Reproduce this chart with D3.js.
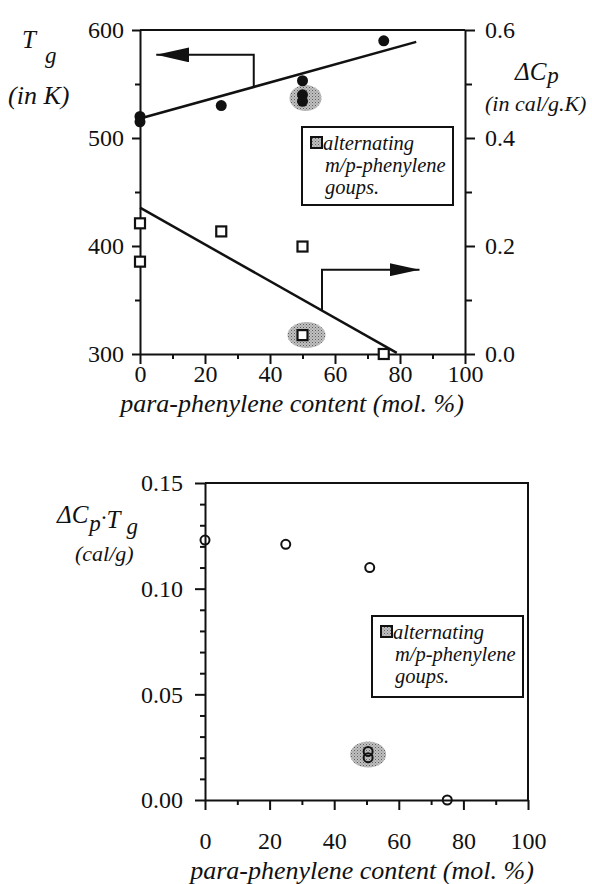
<!DOCTYPE html>
<html>
<head>
<meta charset="utf-8">
<script src="https://cdn.jsdelivr.net/npm/d3@7"></script>
<style>
body { margin: 0; background: #fff; }
text { font-family: 'Liberation Serif', 'DejaVu Serif', 'Noto Serif', serif; fill: #111; }
.axis path, .axis line { stroke: #111; stroke-width: 2; }
.axis text { font-size: 24px; font-family: 'Liberation Serif', 'DejaVu Serif', 'Noto Serif', serif; fill: #111; }
.it { font-style: italic; }
</style>
</head>
<body>
<svg id="chart" width="592" height="884"></svg>
<script>
// para-phenylene content (mol. %) for each sample
const tgPct = [0, 0, 25, 50, 75]
const tgVal = [520, 515, 530, 553, 590]
const tgAltPct = [50, 50]
const tgAltVal = [540, 534]

const dcpPct = [0, 0, 25, 50, 75]
const dcpVal = [0.242, 0.171, 0.227, 0.199, 0.0]
const dcpAltPct = [50]
const dcpAltVal = [0.035]

// fitted lines (end points)
const tgFitPct = [0, 85]
const tgFitVal = [518, 589]
const dcpFitPct = [0, 79]
const dcpFitVal = [0.271, 0.002]

// product dCp*Tg
const prodPct = [0, 25, 51, 75]
const prodVal = [0.123, 0.121, 0.110, 0.0]
const prodAltPct = [50.5, 50.5]
const prodAltVal = [0.023, 0.020]

// arrows pointing to the axes (data units)
const tgArrowPct = [35, 35, 5]
const tgArrowVal = [547, 577, 577]
const dcpArrowPct = [56, 56, 86]
const dcpArrowVal = [0.08, 0.156, 0.156]

// ticks
const xTicks = [0, 20, 40, 60, 80, 100]
const xMinor = [10, 30, 50, 70, 90]
const tgTicks = [300, 400, 500, 600]
const tgMinor = [350, 450, 550]
const dcpTicks = [0.0, 0.2, 0.4, 0.6]
const dcpMinor = [0.1, 0.3, 0.5]
const prodTicks = [0.00, 0.05, 0.10, 0.15]
const prodMinor = [0.01, 0.02, 0.03, 0.04, 0.06, 0.07, 0.08, 0.09, 0.11, 0.12, 0.13, 0.14]

const legendLines = ['alternating', 'm/p-phenylene', 'goups.']
const xTitle = 'para-phenylene content (mol. %)'

const svg = d3.select('#chart')

// stippled grey used for the highlighted samples
const defs = svg.append('defs')
const pat = defs.append('pattern')
    .attr('id', 'stipple')
    .attr('width', 3).attr('height', 3)
    .attr('patternUnits', 'userSpaceOnUse')
pat.append('rect').attr('width', 3).attr('height', 3).attr('fill', '#c0c0c0')
pat.append('rect').attr('width', 1).attr('height', 1).attr('fill', '#5e5e5e')
pat.append('rect').attr('x', 1.5).attr('y', 1.5).attr('width', 1).attr('height', 1).attr('fill', '#808080')

function arrowHead(id, len, half) {
    defs.append('marker')
        .attr('id', id)
        .attr('markerUnits', 'userSpaceOnUse')
        .attr('markerWidth', len).attr('markerHeight', half * 2)
        .attr('refX', len).attr('refY', half)
        .attr('orient', 'auto')
        .append('path')
        .attr('d', `M0,0 L${len},${half} L0,${half * 2} Z`)
        .attr('fill', '#111')
}
arrowHead('headA', 33, 7.5)
arrowHead('headB', 30, 6.5)

function addAxis(g, axis, minorAxis) {
    g.append('g').attr('class', 'axis minor').call(minorAxis)
        .call(s => s.select('.domain').remove())
    g.append('g').attr('class', 'axis').call(axis)
        .attr('font-family', null)
}

// ---------------- top chart: Tg and dCp ----------------
const x1 = d3.scaleLinear().domain([0, 100]).range([140, 465])
const yTg = d3.scaleLinear().domain([300, 600]).range([354, 30])
const yCp = d3.scaleLinear().domain([0, 0.6]).range([354, 30])

const topG = svg.append('g')

// frame line on top
topG.append('line')
    .attr('x1', x1(0)).attr('x2', x1(100))
    .attr('y1', yTg(600)).attr('y2', yTg(600))
    .attr('stroke', '#111').attr('stroke-width', 2)

addAxis(topG.append('g').attr('transform', `translate(0,${yTg(300)})`),
    d3.axisBottom(x1).tickValues(xTicks).tickSize(10).tickSizeOuter(0).tickPadding(1).tickFormat(d3.format('d')),
    d3.axisBottom(x1).tickValues(xMinor).tickSize(5).tickFormat(''))

addAxis(topG.append('g').attr('transform', `translate(${x1(0)},0)`),
    d3.axisLeft(yTg).tickValues(tgTicks).tickSize(8).tickSizeOuter(0).tickPadding(8).tickFormat(d3.format('d')),
    d3.axisLeft(yTg).tickValues(tgMinor).tickSize(5).tickFormat(''))

addAxis(topG.append('g').attr('transform', `translate(${x1(100)},0)`),
    d3.axisRight(yCp).tickValues(dcpTicks).tickSize(10).tickSizeOuter(0).tickPadding(10).tickFormat(d3.format('.1f')),
    d3.axisRight(yCp).tickValues(dcpMinor).tickSize(7).tickFormat(''))

// grey highlight behind the alternating samples
topG.append('ellipse')
    .attr('cx', x1(d3.mean(tgAltPct)) + 3).attr('cy', yTg(d3.mean(tgAltVal)))
    .attr('rx', 16).attr('ry', 13)
    .attr('fill', 'url(#stipple)')
topG.append('ellipse')
    .attr('cx', x1(dcpAltPct[0]) + 4).attr('cy', yCp(dcpAltVal[0]))
    .attr('rx', 19).attr('ry', 13)
    .attr('fill', 'url(#stipple)')

// fitted lines
const tgLine = d3.line().x(d => x1(d[0])).y(d => yTg(d[1]))
const cpLine = d3.line().x(d => x1(d[0])).y(d => yCp(d[1]))

topG.append('path')
    .datum(d3.zip(tgFitPct, tgFitVal))
    .attr('d', tgLine)
    .attr('fill', 'none').attr('stroke', '#111').attr('stroke-width', 2.5)

topG.append('path')
    .datum(d3.zip(dcpFitPct, dcpFitVal))
    .attr('d', cpLine)
    .attr('fill', 'none').attr('stroke', '#111').attr('stroke-width', 2.5)

// arrows
topG.append('path')
    .datum(d3.zip(tgArrowPct, tgArrowVal))
    .attr('d', tgLine)
    .attr('fill', 'none').attr('stroke', '#111').attr('stroke-width', 2)
    .attr('marker-end', 'url(#headA)')

topG.append('path')
    .datum(d3.zip(dcpArrowPct, dcpArrowVal))
    .attr('d', cpLine)
    .attr('fill', 'none').attr('stroke', '#111').attr('stroke-width', 2)
    .attr('marker-end', 'url(#headB)')

// Tg points (filled circles)
topG.selectAll('.tg')
    .data(d3.zip(tgPct.concat(tgAltPct), tgVal.concat(tgAltVal)))
    .enter().append('circle')
    .attr('cx', d => x1(d[0])).attr('cy', d => yTg(d[1]))
    .attr('r', 5.5).attr('fill', '#111')

// dCp points (open squares)
topG.selectAll('.cp')
    .data(d3.zip(dcpPct.concat(dcpAltPct), dcpVal.concat(dcpAltVal)))
    .enter().append('rect')
    .attr('x', d => x1(d[0]) - 5).attr('y', d => yCp(d[1]) - 5)
    .attr('width', 10).attr('height', 10)
    .attr('fill', '#fff').attr('stroke', '#111').attr('stroke-width', 2.2)

// axis labels
const tgLab = topG.append('text').attr('class', 'it').attr('x', 22).attr('y', 48)
tgLab.append('tspan').attr('font-size', 25).text('T')
tgLab.append('tspan').attr('font-size', 23).attr('dx', 9).attr('dy', 15).text('g')
topG.append('text').attr('class', 'it').attr('x', 8).attr('y', 104)
    .attr('font-size', 26).text('(in K)')

const cpLab = topG.append('text').attr('class', 'it').attr('x', 515).attr('y', 80)
cpLab.append('tspan').attr('font-size', 25).text('ΔC')
cpLab.append('tspan').attr('font-size', 23).attr('dx', 1).attr('dy', 3).text('p')
topG.append('text').attr('class', 'it').attr('x', 485).attr('y', 111)
    .attr('font-size', 22).text('(in cal/g.K)')

topG.append('text').attr('class', 'it')
    .attr('x', 292).attr('y', 412)
    .attr('text-anchor', 'middle')
    .attr('font-size', 26)
    .text(xTitle)

// legend
function legend(g, x, y, w, h) {
    g.append('rect')
        .attr('x', x).attr('y', y).attr('width', w).attr('height', h)
        .attr('fill', '#fff').attr('stroke', '#111').attr('stroke-width', 2)
    g.append('rect')
        .attr('x', x + 9).attr('y', y + 10).attr('width', 11).attr('height', 11)
        .attr('fill', 'url(#stipple)').attr('stroke', '#111').attr('stroke-width', 2)
    g.selectAll('.lg')
        .data(legendLines)
        .enter().append('text')
        .attr('class', 'it')
        .attr('x', (d, i) => x + (i === 0 ? 21 : 23))
        .attr('y', (d, i) => y + 23 + i * 22)
        .attr('font-size', 20.5)
        .text(d => d)
}
legend(topG, 302, 127, 151, 78)

// ---------------- bottom chart: dCp * Tg ----------------
const x2 = d3.scaleLinear().domain([0, 100]).range([205, 528])
const yP = d3.scaleLinear().domain([0, 0.15]).range([800, 483])

const botG = svg.append('g')

botG.append('path')
    .attr('d', `M${x2(0)},${yP(0.15)} H${x2(100)} V${yP(0)}`)
    .attr('fill', 'none').attr('stroke', '#111').attr('stroke-width', 2)

addAxis(botG.append('g').attr('transform', `translate(0,${yP(0)})`),
    d3.axisBottom(x2).tickValues(xTicks).tickSize(10).tickSizeOuter(0).tickPadding(22).tickFormat(d3.format('d')),
    d3.axisBottom(x2).tickValues(xMinor).tickSize(5).tickFormat(''))

addAxis(botG.append('g').attr('transform', `translate(${x2(0)},0)`),
    d3.axisLeft(yP).tickValues(prodTicks).tickSize(10).tickSizeOuter(0).tickPadding(12).tickFormat(d3.format('.2f')),
    d3.axisLeft(yP).tickValues(prodMinor).tickSize(5).tickFormat(''))

botG.append('ellipse')
    .attr('cx', x2(d3.mean(prodAltPct))).attr('cy', yP(d3.mean(prodAltVal)))
    .attr('rx', 18).attr('ry', 13)
    .attr('fill', 'url(#stipple)')

botG.selectAll('.pr')
    .data(d3.zip(prodPct.concat(prodAltPct), prodVal.concat(prodAltVal)))
    .enter().append('circle')
    .attr('cx', d => x2(d[0])).attr('cy', d => yP(d[1]))
    .attr('r', 4.5)
    .attr('fill', 'none').attr('stroke', '#111').attr('stroke-width', 2)

const pLab = botG.append('text').attr('class', 'it').attr('x', 57).attr('y', 523)
pLab.append('tspan').attr('font-size', 25).text('ΔC')
pLab.append('tspan').attr('font-size', 23).attr('dx', 1).attr('dy', 8).text('p')
pLab.append('tspan').attr('font-size', 23).attr('dy', -6).text('·')
pLab.append('tspan').attr('font-size', 25).attr('dy', 3).text('T')
pLab.append('tspan').attr('font-size', 23).attr('dx', 6).attr('dy', 6).text('g')
botG.append('text').attr('class', 'it').attr('x', 75).attr('y', 561)
    .attr('font-size', 22).text('(cal/g)')

legend(botG, 372, 616, 151, 81)

botG.append('text').attr('class', 'it')
    .attr('x', 362).attr('y', 879)
    .attr('text-anchor', 'middle')
    .attr('font-size', 26)
    .text(xTitle)
</script>
</body>
</html>
